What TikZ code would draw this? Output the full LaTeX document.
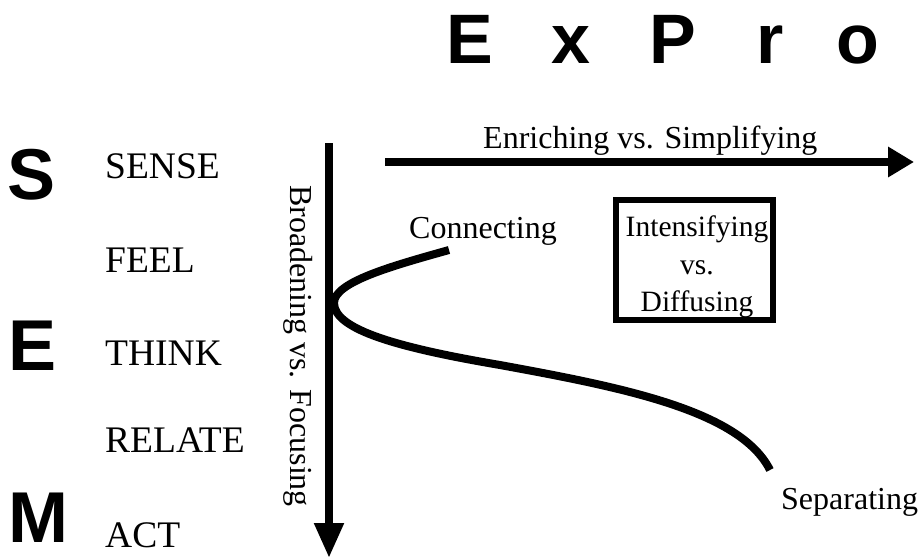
\documentclass[tikz,border=0pt]{standalone}
\usepackage{fontspec}
\setmainfont{Liberation Serif}
\newfontfamily\hv{Liberation Sans}
\usetikzlibrary{arrows.meta}
\begin{document}
\begin{tikzpicture}[x=1pt,y=-1pt,
  title/.style={font=\hv\bfseries\fontsize{70}{80}\selectfont, inner sep=0pt, anchor=base},
  biglet/.style={font=\hv\bfseries\fontsize{72}{80}\selectfont, inner sep=0pt, anchor=base west},
  mode/.style={font=\fontsize{37.5}{42}\selectfont, inner sep=0pt, anchor=base west},
  lab/.style={font=\fontsize{32}{37.5}\selectfont, inner sep=0pt},
  boxlab/.style={font=\fontsize{29.5}{37.5}\selectfont, inner sep=0pt, align=center},
  axis/.style={line width=8pt},
  curve/.style={line width=8pt},
  framebox/.style={draw, line width=6pt, minimum width=157pt, minimum height=120pt, inner sep=0pt}]
\useasboundingbox (0,0) rectangle (919,558);
% title
\node[title] (tE) at (470,63) {E};
\node[title] (tx) at (571,63) {x};
\node[title] (tP) at (673,63) {P};
\node[title] (tr) at (770,63) {r};
\node[title] (to) at (858,63) {o};
% big letters
\node[biglet] (bS) at (7,199) {S};
\node[biglet] (bE) at (8,370) {E};
\node[biglet] (bM) at (8,542) {M};
% modes
\node[mode] (sense) at (105,178) {SENSE};
\node[mode] (feel) at (105,272) {FEEL};
\node[mode] (think) at (105,365) {THINK};
\node[mode] (relate) at (105,452) {RELATE};
\node[mode] (act) at (105,547) {ACT};
% axes
\coordinate (vtop) at (329,143);
\coordinate (vbot) at (329,558);
\draw[axis,-{Triangle[length=35pt,width=28pt]}] (vtop) -- (vbot);
\node[lab, rotate=-90, anchor=base west] (bf) at (290,185) {Broadening vs. Focusing};
\coordinate (hleft) at (385,162);
\coordinate (hright) at (914,162);
\draw[axis,-{Triangle[length=26pt,width=29pt]}] (hleft) -- (hright);
\node[lab, anchor=base west] (es) at (483,148) {Enriching vs. Simplifying};
% curve
\node[lab, anchor=base west] (conn) at (409,238) {Connecting};
\node[lab, anchor=base west] (sep) at (781,509) {Separating};
\coordinate (cA) at (449,250);
\coordinate (cTip) at (334,303);
\coordinate (cM) at (500,365);
\coordinate (cB) at (770,470);
\draw[curve] (cA) .. controls (392,266) and (334,282) .. (cTip)
  .. controls (334,330) and (400,348) .. (cM)
  .. controls (620,387) and (740,410) .. (cB);
% box
\node[framebox] (box) at (694.5,260) {};
\node[boxlab] (boxtext) at (697,267) {Intensifying\\vs.\\Diffusing};
\end{tikzpicture}
\end{document}
